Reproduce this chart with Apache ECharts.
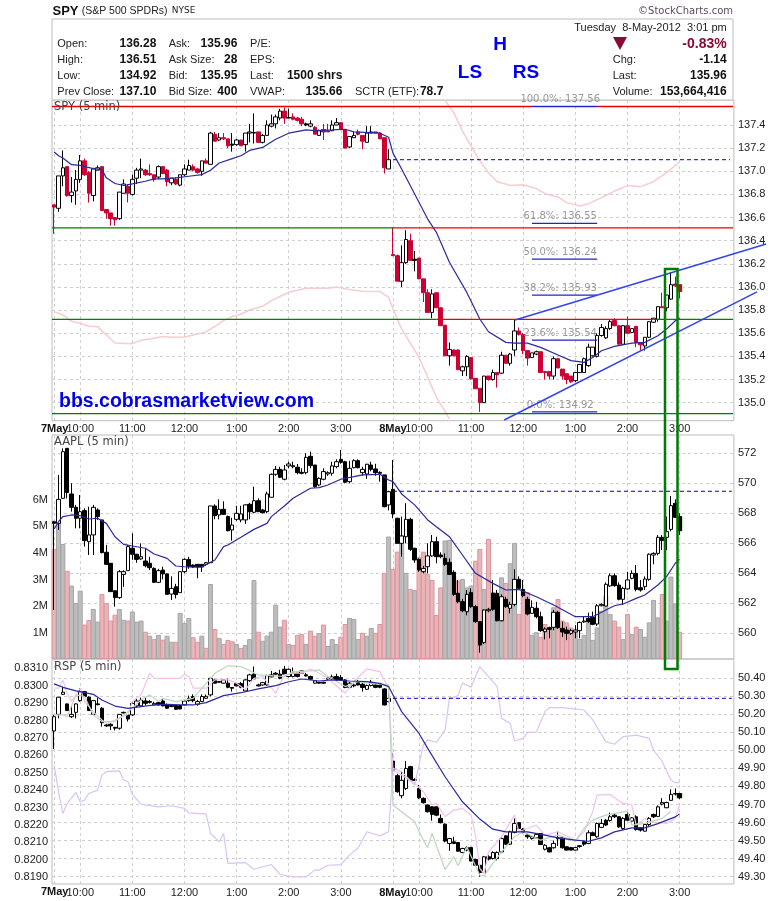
<!DOCTYPE html>
<html>
<head>
<meta charset="utf-8">
<style>html,body{margin:0;padding:0;background:#fff}#c{width:780px;height:901px}</style>
<script src="https://cdn.jsdelivr.net/npm/echarts@6/dist/echarts.min.js"></script>
</head>
<body>
<div id="c"></div>
<script>
// [open, close, low, high], one row per 5-minute bar
const spyBars = [
[136.71,136.69,136.46,136.71],[136.68,136.96,136.65,136.96],[136.96,137.03,136.87,137.18],[137.04,136.79,136.78,137.04],[136.79,136.82,136.73,136.95],[136.83,136.93,136.71,137.01],[136.93,137.09,136.90,137.14],[137.09,136.97,136.96,137.11],[136.99,136.81,136.73,137.0],[136.79,137.02,136.74,137.03],
[137.01,137.03,137.01,137.05],[137.04,136.66,136.66,137.04],[136.67,136.64,136.59,136.67],[136.64,136.59,136.53,136.64],[136.6,136.58,136.53,136.6],[136.59,136.82,136.58,136.82],[136.81,136.89,136.81,136.93],[136.87,136.81,136.73,136.89],[136.80,136.93,136.79,136.97],[136.94,137.01,136.89,137.03],
[137.01,137.02,136.94,137.11],[137.01,136.97,136.96,137.02],[136.98,136.97,136.96,137.06],[136.97,136.93,136.91,136.97],[136.95,137.04,136.93,137.05],[137.04,136.98,136.98,137.04],[137.01,136.91,136.87,137.02],[136.90,136.94,136.88,136.94],[136.93,136.89,136.88,136.95],[136.88,136.97,136.87,136.97],
[136.97,137.02,136.96,137.06],[137.01,137.05,137.01,137.1],[137.04,137.01,137.0,137.06],[137.02,136.99,136.98,137.03],[137.0,137.09,136.96,137.09],[137.09,137.07,137.07,137.11],[137.06,137.33,137.06,137.34],[137.32,137.26,137.26,137.34],[137.27,137.29,137.26,137.33],[137.29,137.28,137.27,137.33],
[137.28,137.22,137.2,137.28],[137.235,137.225,137.17,137.33],[137.23,137.27,137.22,137.28],[137.27,137.22,137.22,137.27],[137.23,137.33,137.17,137.33],[137.33,137.34,137.25,137.41],[137.335,137.33,137.24,137.5],[137.34,137.25,137.25,137.34],[137.25,137.31,137.24,137.32],[137.31,137.4,137.31,137.44],
[137.39,137.41,137.38,137.49],[137.41,137.47,137.37,137.49],[137.46,137.52,137.44,137.54],[137.52,137.46,137.41,137.55],[137.465,137.46,137.46,137.54],[137.47,137.45,137.44,137.5],[137.46,137.44,137.43,137.47],[137.45,137.41,137.39,137.47],[137.41,137.40,137.39,137.42],[137.39,137.41,137.38,137.44],
[137.38,137.32,137.32,137.39],[137.31,137.35,137.31,137.36],[137.36,137.34,137.27,137.41],[137.35,137.34,137.34,137.41],[137.35,137.4,137.35,137.44],[137.4,137.42,137.4,137.46],[137.42,137.36,137.36,137.42],[137.36,137.2,137.2,137.36],[137.21,137.3,137.2,137.3],[137.29,137.31,137.29,137.34],
[137.34,137.32,137.31,137.36],[137.31,137.26,137.19,137.31],[137.25,137.33,137.25,137.39],[137.33,137.34,137.33,137.39],[137.34,137.33,137.33,137.34],[137.33,137.28,137.28,137.34],[137.29,137.03,136.98,137.29],[137.02,137.10,137.02,137.19],
[136.28,136.27,136.27,136.515],[136.27,136.05,136.05,136.28],[136.05,136.21,136.0,136.36],[136.21,136.41,136.2,136.49],[136.4,136.23,136.23,136.46],[136.24,136.23,136.135,136.31],[136.25,136.07,136.07,136.25],[136.07,135.95,135.87,136.07],[135.95,135.78,135.78,135.98],[135.78,135.94,135.73,135.98],
[135.95,135.82,135.82,135.95],[135.82,135.665,135.665,135.82],[135.67,135.405,135.405,135.67],[135.405,135.46,135.32,135.52],[135.455,135.405,135.40,135.46],[135.455,135.285,135.285,135.46],[135.275,135.31,135.23,135.32],[135.31,135.4,135.23,135.41],[135.39,135.205,135.2,135.39],[135.21,135.12,135.12,135.21],
[135.125,135.0,134.92,135.125],[135.0,135.23,135.0,135.23],[135.23,135.2,135.19,135.23],[135.2,135.26,135.19,135.285],[135.26,135.24,135.13,135.26],[135.255,135.41,135.25,135.44],[135.41,135.34,135.34,135.41],[135.34,135.42,135.32,135.43],[135.455,135.62,135.405,135.72],[135.62,135.59,135.58,135.65],
[135.59,135.45,135.42,135.6],[135.45,135.385,135.32,135.45],[135.39,135.43,135.39,135.43],[135.42,135.44,135.41,135.45],[135.44,135.26,135.26,135.44],[135.27,135.26,135.2,135.27],[135.27,135.23,135.2,135.27],[135.23,135.38,135.2,135.4],[135.38,135.3,135.3,135.38],[135.29,135.23,135.2,135.29],
[135.25,135.2,135.16,135.25],[135.23,135.18,135.17,135.23],[135.19,135.26,135.18,135.26],[135.26,135.33,135.26,135.33],[135.26,135.38,135.26,135.39],[135.32,135.48,135.31,135.51],[135.405,135.48,135.40,135.48],[135.40,135.58,135.39,135.6],[135.58,135.65,135.57,135.68],[135.56,135.64,135.55,135.66],
[135.64,135.70,135.63,135.72],[135.71,135.665,135.66,135.73],[135.665,135.505,135.505,135.665],[135.505,135.665,135.5,135.67],[135.665,135.6,135.6,135.745],[135.607,135.64,135.6,135.64],[135.66,135.52,135.48,135.66],[135.52,135.5,135.45,135.52],[135.49,135.565,135.45,135.565],[135.565,135.7,135.56,135.7],
[135.695,135.73,135.69,135.73],[135.72,135.83,135.7,135.83],[135.83,135.82,135.82,135.95],[135.82,135.93,135.79,135.93],[135.895,136.02,135.89,136.13],[136.025,136.01,136.0,136.09],[136.02,135.96,135.9,136.02]
];
const spyBlackBars = [41,46,54,58,83];

const aaplBars = [
[567.44,567.33,561.56,567.5],[567.33,568.93,566.89,570.56],[569,572.11,569,572.33],[572.33,569.38,569,572.33],[569.29,568.4,568.11,570],[568.4,567.67,567,568.56],[567.67,568.11,567,569.22],[568.18,566.18,565.78,568.33],[566.11,566.56,565.22,568.44],[566.56,568.4,565.22,568.56],
[568.22,567.78,567.56,568.33],[567.56,565.38,565.33,567.56],[565.4,564.6,564.6,565.89],[564.67,562.78,562.78,564.67],[562.84,562.38,561.78,562.84],[562.38,564.11,562.3,564.22],[563.93,564.11,563.1,564.2],[564.18,565.78,564.18,565.9],[565.67,565.27,564.9,566.67],[565.27,564.93,564.7,565.3],
[564.96,565.11,564.9,566],[564.82,564.51,564.4,565.67],[564.67,564.38,564.22,565.1],[564.33,563.4,563.35,564.4],[563.4,564.18,563.35,564.3],[564.22,563.96,563.6,564.44],[563.96,562.6,562.6,564],[562.62,563,562.22,563.8],[563.11,562.58,562.33,563.3],[562.71,564.11,562.71,564.11],
[564.11,564.93,564,565],[564.93,564.44,564.3,565.1],[564.55,564.42,564.35,564.6],[564.6,564.42,563.67,564.6],[564.6,564.42,564.1,564.6],[564.6,564.71,564.5,564.75],[564.71,568.49,564.7,568.5],[568.49,567.84,567.6,568.6],[567.89,568.27,567.6,568.93],[568.27,567.93,567.9,568.8],
[567.78,566.84,566.8,567.85],[566.89,567.22,566.18,567.7],[567.6,568,567.5,568.5],[567.56,567.96,567.4,568.5],[567.56,568.56,567.3,568.6],[568.6,568.11,567.6,568.7],[568.07,568.84,568,569.78],[568.84,568.11,568.1,569],[568.22,568.04,568,568.3],[568.11,569.29,568,569.44],
[569.07,570.6,569.07,570.65],[570.6,570.93,570.5,571.16],[570.93,570.4,570.35,571.1],[570.27,570.89,570.2,571.22],[571.16,571.29,571,571.44],[571.11,571.18,571,571.44],[571.07,570.71,570.6,571.29],[570.73,570.67,570.6,571],[570.71,571.73,570.6,572],[571.8,571.18,571,572.11],
[571.22,569.78,569.7,571.22],[569.89,570.33,569.8,570.4],[570.27,570.78,570.2,571],[570.62,570.71,570.5,570.8],[570.67,571.16,570.5,571.44],[571.11,571.44,571,571.6],[571.6,571.4,571.3,572.22],[571.44,570.07,570,571.5],[570.11,571,570,571.5],[571.04,571.51,571,571.6],
[571.51,571.04,571,571.6],[570.71,570.93,570.5,571.1],[570.62,571.27,570.3,571.3],[571.22,570.93,570.8,571.44],[570.96,570.71,570.5,571.3],[570.73,570.67,570.11,570.8],[570.56,568.44,568.4,570.56],[568.56,569.44,568.2,569.5],
[569.6,567.96,567.67,571.56],[567.67,566,566,567.7],[566,566.49,565.11,567.78],[566.44,567.6,566,568.67],[567.6,565.6,565.5,567.7],[565.67,564.89,564.7,565.7],[564.93,564.22,564.1,565],[564.11,564.33,564,564.5],[564.44,565.16,564,566],[565.16,566.11,565.1,566.56],
[566.11,565.11,564.67,566.44],[565.22,565.11,565,565.4],[565,564.6,564.5,565.33],[564.73,563.93,563.9,565],[564.07,562.6,562.5,564.2],[562.67,562.11,562,563.56],[562.11,561.51,561.4,562.3],[561.44,562.6,561.2,562.89],[562.73,561.78,561.7,563],[561.78,560.78,560.7,561.9],
[560.78,559.22,558.71,560.8],[559.38,561.56,559.3,561.6],[561.51,561.6,561.4,561.7],[562.67,561.6,561.5,563.56],[562.67,560.84,560.8,562.9],[560.84,562.44,560.8,562.6],[562.27,561.78,561.7,562.44],[561.67,561.93,561.33,562.1],[561.93,563.6,561.8,564.27],[563.6,563,562.9,563.8],
[562.93,562.51,562.4,563.56],[562.27,561.29,561.2,562.44],[561.33,561.73,561.3,562.2],[561.67,561.11,561,562.1],[561.11,560.18,560.1,561.44],[560.11,560.29,559.6,560.4],[560.38,560.27,559.67,560.45],[560.4,561.4,560.2,561.56],[561.4,560.38,560.3,561.5],[560.33,560.09,559.75,560.78],
[560.22,560,559.55,560.45],[560,560.18,559.9,560.3],[560.09,560.22,559.67,560.55],[560.18,560.73,559.67,560.8],[560.76,560.82,560.7,561.1],[561,560.78,560.7,561.38],[561.07,560.6,560.55,561.45],[560.62,561.84,560.5,561.95],[561.84,561.93,561.8,562.0],[561.82,563.27,561.8,563.4],
[563.16,563.84,563.1,564.0],[563.84,563.18,563.1,564],[563.22,562.27,562.2,563.4],[562.27,563,561.9,563.1],[562.96,563.56,562.9,564.1],[563.67,564,563.6,564.2],[564,562.93,562.8,564.55],[563.04,562.89,562.78,563.56],[563.11,563.62,562.89,563.8],[563.6,565.27,563.5,565.33],
[565.22,565.33,564.6,565.4],[565.33,566.4,565.2,566.55],[566.4,566.18,565.55,566.55],[566.4,566.78,565.55,567.78],[566.93,568.51,566.8,569.15],[568.67,567.73,567.7,568.93],[567.78,566.84,566.56,568]
];

const rspBars = [
[50.108,50.187,50.008,50.197],[50.2,50.295,50.178,50.295],[50.311,50.323,50.31,50.354],[50.258,50.221,50.22,50.26],[50.187,50.2,50.18,50.25],[50.211,50.258,50.178,50.26],[50.276,50.326,50.27,50.345],[50.326,50.299,50.295,50.33],[50.295,50.221,50.22,50.3],[50.2,50.276,50.2,50.28],
[50.258,50.254,50.25,50.29],[50.234,50.154,50.132,50.24],[50.141,50.136,50.13,50.145],[50.145,50.136,50.113,50.15],[50.128,50.123,50.11,50.13],[50.123,50.2,50.115,50.2],[50.211,50.208,50.205,50.215],[50.197,50.174,50.16,50.2],[50.197,50.261,50.19,50.27],[50.247,50.274,50.24,50.29],
[50.247,50.28,50.24,50.293],[50.274,50.261,50.25,50.293],[50.271,50.267,50.26,50.28],[50.252,50.261,50.25,50.27],[50.265,50.252,50.25,50.27],[50.274,50.247,50.245,50.285],[50.252,50.234,50.23,50.26],[50.249,50.243,50.24,50.25],[50.249,50.228,50.225,50.25],[50.249,50.23,50.228,50.25],
[50.252,50.274,50.25,50.28],[50.276,50.289,50.27,50.304],[50.299,50.276,50.267,50.311],[50.256,50.271,50.248,50.28],[50.271,50.299,50.27,50.311],[50.289,50.3,50.285,50.31],[50.308,50.4,50.3,50.4],[50.391,50.373,50.37,50.395],[50.382,50.378,50.375,50.385],[50.373,50.391,50.37,50.395],
[50.373,50.35,50.345,50.397],[50.349,50.345,50.326,50.35],[50.371,50.358,50.355,50.375],[50.371,50.35,50.345,50.38],[50.33,50.391,50.325,50.395],[50.387,50.419,50.38,50.425],[50.423,50.397,50.395,50.465],[50.363,50.358,50.355,50.37],[50.363,50.376,50.36,50.38],[50.363,50.415,50.36,50.42],
[50.408,50.419,50.405,50.441],[50.428,50.423,50.42,50.435],[50.423,50.4,50.395,50.447],[50.45,50.423,50.42,50.469],[50.41,50.45,50.405,50.455],[50.41,50.428,50.405,50.46],[50.428,50.41,50.405,50.43],[50.428,50.441,50.425,50.445],[50.419,50.413,50.41,50.43],[50.41,50.395,50.39,50.415],
[50.373,50.386,50.37,50.39],[50.378,50.373,50.37,50.38],[50.378,50.373,50.37,50.38],[50.404,50.395,50.39,50.41],[50.397,50.408,50.39,50.42],[50.41,50.391,50.385,50.425],[50.404,50.391,50.385,50.419],[50.391,50.349,50.345,50.395],[50.35,50.373,50.345,50.38],[50.363,50.358,50.35,50.37],
[50.378,50.363,50.36,50.391],[50.367,50.349,50.326,50.382],[50.339,50.36,50.335,50.365],[50.36,50.378,50.355,50.391],[50.363,50.35,50.345,50.37],[50.363,50.35,50.345,50.37],[50.341,50.252,50.25,50.345],[50.271,50.289,50.265,50.326],
[49.941,49.887,49.845,49.984],[49.86,49.771,49.765,49.87],[49.749,49.834,49.734,49.882],[49.789,49.9,49.78,49.941],[49.91,49.836,49.83,49.915],[49.839,49.834,49.83,49.845],[49.789,49.737,49.73,49.808],[49.734,49.71,49.705,49.74],[49.697,49.66,49.655,49.7],[49.687,49.645,49.61,49.69],
[49.687,49.641,49.635,49.69],[49.623,49.599,49.595,49.645],[49.591,49.497,49.49,49.595],[49.484,49.511,49.443,49.515],[49.493,49.484,49.48,49.521],[49.489,49.441,49.44,49.49],[49.434,49.456,49.43,49.46],[49.447,49.461,49.44,49.47],[49.461,49.386,49.385,49.465],[49.395,49.363,49.36,49.4],
[49.363,49.323,49.3,49.365],[49.323,49.41,49.32,49.415],[49.41,49.397,49.39,49.42],[49.4,49.434,49.395,49.44],[49.4,49.434,49.39,49.44],[49.437,49.511,49.43,49.52],[49.526,49.48,49.475,49.53],[49.48,49.549,49.475,49.555],[49.545,49.595,49.54,49.623],[49.599,49.567,49.56,49.6],
[49.563,49.545,49.54,49.57],[49.53,49.521,49.51,49.54],[49.511,49.521,49.505,49.525],[49.515,49.534,49.51,49.54],[49.539,49.478,49.475,49.54],[49.452,49.474,49.445,49.48],[49.46,49.437,49.435,49.465],[49.46,49.484,49.455,49.5],[49.515,49.51,49.47,49.55],[49.515,49.46,49.455,49.525],
[49.465,49.447,49.445,49.47],[49.461,49.447,49.445,49.465],[49.447,49.461,49.445,49.465],[49.471,49.467,49.46,49.475],[49.493,49.48,49.47,49.5],[49.484,49.543,49.48,49.557],[49.543,49.528,49.525,49.55],[49.521,49.595,49.515,49.6],[49.573,49.595,49.57,49.62],[49.613,49.586,49.58,49.62],
[49.611,49.632,49.605,49.655],[49.641,49.632,49.625,49.65],[49.632,49.576,49.57,49.635],[49.567,49.623,49.56,49.63],[49.645,49.613,49.61,49.66],[49.608,49.626,49.6,49.63],[49.632,49.561,49.555,49.64],[49.571,49.558,49.55,49.575],[49.552,49.589,49.55,49.595],[49.589,49.623,49.58,49.63],
[49.645,49.632,49.625,49.65],[49.634,49.687,49.63,49.695],[49.702,49.711,49.695,49.735],[49.682,49.711,49.68,49.715],[49.723,49.756,49.72,49.784],[49.761,49.758,49.75,49.789],[49.761,49.737,49.73,49.765]
];

// AAPL share volume in millions
const volumeM = [4.15,5.62,4.34,3.33,2.77,2.11,2.58,1.30,1.47,1.89,1.41,2.45,2.11,1.45,1.67,1.89,1.48,1.45,1.79,1.41,1.45,1.03,.88,.75,.91,.73,.88,.65,.65,1.74,1.36,1.55,.82,.65,.88,.42,2.83,1.13,.79,.57,.72,.67,.57,.42,.53,.75,2.98,1.03,.69,.88,1.03,2.05,1.22,1.48,.57,.53,.91,.94,.57,1.07,.88,.98,1.30,.49,.75,.57,.84,1.32,1.55,1.51,.75,.99,.88,1.17,.99,1.32,3.25,4.62,
3.40,4.05,4.65,3.25,2.64,2.60,3.84,4.05,3.21,2.98,1.66,2.70,4.47,4.49,3.14,2.96,3.02,2.70,2.77,3.71,4.15,2.64,4.53,2.52,1.76,3.08,2.87,3.61,4.38,1.70,2.58,2.52,.91,1.01,.84,1.32,1.13,1.95,2.26,1.45,1.38,1.19,1.07,.75,.91,1.38,.72,1.19,1.82,2.39,1.70,1.45,1.22,.75,1.70,.94,1.22,1.13,.84,1.38,2.23,1.57,2.45,1.45,3.11,2.10,1.03];
// 1 = pink (falling) volume bar, 0 = grey
const volumeFalling = [1,0,0,1,0,0,0,1,1,0,0,1,1,1,1,0,0,1,0,0,0,1,0,1,0,1,0,0,1,0,0,0,1,1,0,1,0,1,0,1,1,1,0,1,0,0,0,1,0,0,0,0,0,1,0,1,1,1,0,1,1,0,1,0,0,0,1,1,0,0,0,1,0,0,1,1,1,0,
1,1,0,0,1,0,1,1,1,1,1,1,0,0,1,1,0,0,0,1,1,0,1,0,0,0,1,0,0,1,1,1,0,0,1,1,1,0,1,1,1,1,0,0,0,0,0,0,0,0,0,1,1,0,1,0,1,0,0,0,0,0,1,0,0,0,1];

// moving averages and overlays: [bar index, value]
const spyMA = [[0,137.166],[1,137.134],[2,137.114],[4,137.057],[6,137.051],[9,137.023],[11,137.014],[12,136.943],[14,136.894],[16,136.877],[18,136.891],[21,136.914],[23,136.934],[25,136.934],[28,136.943],[31,136.957],[34,136.971],[36,137.009],[38,137.071],[41,137.109],[43,137.134],[45,137.18],[48,137.206],[51,137.277],[54,137.329],[58,137.357],[60,137.351],[64,137.357],[67,137.363],[69,137.34],[73,137.334],[75,137.329],[77,137.294],[78,137.157],[80,137.02],[86,136.587],[88,136.472],[91,136.213],[95,135.953],[98,135.723],[100,135.613],[104,135.521],[106,135.515],[109,135.515],[112,135.478],[116,135.412],[119,135.363],[122,135.348],[124,135.391],[126,135.449],[129,135.486],[133,135.515],[136,135.521],[139,135.579],[141,135.636],[143,135.708],[144,135.73]];
const spyOverlayA = [[0,135.787],[2,135.758],[4,135.703],[6,135.686],[8,135.66],[10,135.657],[12,135.585],[14,135.516],[18,135.51],[20,135.539],[22,135.55],[25,135.571],[27,135.565],[30,135.568],[33,135.594],[35,135.614],[37,135.66],[39,135.709],[41,135.744],[43,135.764],[45,135.801],[48,135.833],[50,135.882],[54,135.954],[58,135.988],[63,135.988],[65,136.0],[68,135.977],[71,135.963],[75,135.96],[77,135.911],[78,135.81],[80,135.637],[84,135.392],[86,135.219],[88,135.046],[91,134.859]];
const spyOverlayB = [[90,137.613],[92,137.507],[94,137.348],[96,137.218],[98,137.089],[100,136.988],[102,136.91],[105,136.878],[108,136.884],[111,136.85],[113,136.806],[116,136.778],[118,136.729],[121,136.7],[123,136.72],[126,136.772],[129,136.829],[132,136.876],[135,136.867],[138,136.91],[141,136.988],[144,137.08]];
const aaplMA = [[0,566.96],[1,567.44],[2,567.78],[4,567.89],[6,567.84],[8,567.62],[10,567.67],[12,567.33],[14,566.44],[16,565.93],[18,565.82],[21,565.67],[23,565.29],[26,565],[28,564.49],[30,564.44],[34,564.42],[37,564.89],[39,565.78],[40,565.89],[43,566.4],[46,566.93],[49,567.33],[50,567.78],[53,568.49],[55,569],[59,569.67],[61,569.71],[63,569.89],[66,570.27],[69,570.44],[71,570.56],[75,570.6],[77,570.22],[78,570.11],[80,569.29],[83,568.56],[86,567.56],[88,567.11],[91,566.44],[94,565.22],[97,564],[101,563.33],[104,562.89],[107,562.93],[111,562.44],[115,561.89],[120,561.11],[124,561.11],[127,561.56],[129,561.84],[131,561.96],[134,562.33],[136,562.56],[139,563.22],[141,563.78],[143,564.67],[144,564.93]];
const rspMA = [[0,50.369],[2,50.35],[5,50.33],[9,50.311],[11,50.28],[14,50.246],[17,50.233],[20,50.243],[23,50.252],[26,50.256],[29,50.252],[32,50.252],[35,50.265],[39,50.304],[43,50.32],[47,50.341],[51,50.359],[54,50.381],[57,50.396],[61,50.385],[64,50.391],[68,50.385],[72,50.381],[75,50.372],[77,50.354],[80,50.215],[84,50.094],[86,50.011],[90,49.854],[94,49.715],[98,49.619],[101,49.563],[104,49.548],[109,49.548],[113,49.53],[116,49.515],[120,49.502],[123,49.496],[126,49.515],[129,49.548],[133,49.57],[136,49.57],[139,49.594],[143,49.631],[144,49.648]];
const rspPink = [[0,50.345],[1,50.345],[2,50.391],[3,50.317],[4,50.271],[6,50.345],[7,50.271],[9,50.215],[11,50.169],[12,50.15],[14,50.169],[17,50.2],[18,50.271],[20,50.308],[22,50.428],[23,50.4],[29,50.4],[30,50.422],[31,50.41],[32,50.345],[35,50.345],[37,50.391],[40,50.391],[42,50.373],[44,50.336],[46,50.4],[48,50.41],[51,50.317],[53,50.419],[55,50.428],[57,50.428],[59,50.452],[61,50.428],[63,50.4],[67,50.317],[69,50.382],[72,50.452],[75,50.437],[77,50.345],[78,49.891],[80,49.863],[83,49.817],[85,49.771],[87,49.697],[88,49.706],[90,49.632],[92,49.669],[94,49.678],[96,49.641],[97,49.53],[98,49.345],[99,49.317],[100,49.437],[103,49.521],[106,49.641],[107,49.549],[109,49.567],[111,49.586],[113,49.53],[116,49.549],[120,49.502],[122,49.549],[124,49.66],[125,49.752],[128,49.756],[131,49.706],[133,49.697],[134,49.586],[136,49.623],[137,49.604],[141,49.595],[143,49.623],[144,49.7]];
const rspGreen = [[0,50.197],[2,50.197],[3,50.187],[5,50.308],[7,50.299],[9,50.197],[11,50.16],[14,50.16],[16,50.197],[18,50.234],[20,50.28],[22,50.308],[24,50.271],[25,50.289],[28,50.271],[32,50.289],[36,50.4],[37,50.428],[40,50.469],[43,50.465],[47,50.419],[53,50.41],[55,50.437],[59,50.441],[61,50.447],[63,50.41],[67,50.354],[70,50.382],[72,50.373],[77,50.363],[78,49.697],[80,49.66],[83,49.604],[85,49.502],[86,49.461],[87,49.539],[90,49.339],[92,49.41],[93,49.36],[95,49.465],[98,49.308],[99,49.304],[101,49.373],[103,49.437],[106,49.521],[108,49.549],[112,49.502],[116,49.53],[120,49.497],[122,49.567],[124,49.613],[127,49.641],[132,49.663],[133,49.586],[136,49.595],[140,49.623],[142,49.663]];
const rspLilac = [[0,49.919],[1,49.771],[2,49.65],[3,49.706],[5,49.767],[6,49.715],[7,49.724],[8,49.761],[10,49.78],[11,49.863],[12,49.882],[15,49.887],[16,49.836],[17,49.826],[18,49.756],[20,49.702],[24,49.687],[27,49.693],[30,49.678],[31,49.654],[35,49.647],[36,49.539],[38,49.493],[39,49.539],[40,49.373],[44,49.378],[46,49.341],[50,49.367],[52,49.313],[55,49.298],[58,49.298],[60,49.336],[61,49.336],[63,49.363],[66,49.367],[68,49.419],[70,49.46],[72,49.549],[75,49.526],[77,49.549],[78,49.9],[80,49.882],[83,49.808],[85,50.03],[86,50.058],[88,50.045],[90,50.113],[91,50.289],[93,50.304],[94,50.373],[96,50.35],[98,50.465],[102,50.354],[103,50.178],[105,50.15],[106,50.052],[108,50.067],[109,50.1],[111,50.1],[113,50.215],[114,50.237],[117,50.237],[122,50.224],[124,50.169],[127,50.049],[129,50.034],[131,50.076],[134,50.085],[137,50.067],[138,50.002],[140,49.937],[142,49.836],[143,49.821],[144,49.821]];

// Fibonacci levels and drawn lines on the SPY panel
const fibLevels = [137.56,136.55,136.24,135.93,135.54,134.92];
const fibNames = ['100.0%: 137.56','61.8%: 136.55','50.0%: 136.24','38.2%: 135.93','23.6%: 135.54','0.0%: 134.92'];
const upperTrend = [[106.1,135.715],[163.9,136.371]];
const lowerTrend = [[103.6,134.85],[161.8,135.957]];

// axes
const barCount = 157;
const tickLabels = {0:'7May',6:'10:00',18:'11:00',30:'12:00',42:'1:00',54:'2:00',66:'3:00',78:'8May',84:'10:00',96:'11:00',108:'12:00',120:'1:00',132:'2:00',144:'3:00'};
const spyTicks = [135,135.2,135.4,135.6,135.8,136,136.2,136.4,136.6,136.8,137,137.2,137.4];
const aaplTicks = [560,562,564,566,568,570,572];
const volumeTicks = [1,2,3,4,5,6];
const rspTicks = [49.3,49.4,49.5,49.6,49.7,49.8,49.9,50,50.1,50.2,50.3,50.4];
const ratioTicks = [.819,.82,.821,.822,.823,.824,.825,.826,.827,.828,.829,.83,.831];

const categories = Array.from({length:barCount},(_,i)=>String(i));
const SANS = '"Liberation Sans", Arial, sans-serif';
const GRID = {color:'#cfcfcf',type:[3,3],width:1};
const CRIMSON = '#cc0033';

function xAxis(gridIndex, showLabels){
  return {type:'category',gridIndex,data:categories,boundaryGap:true,
    axisLine:{show:false},axisTick:{show:false,alignWithLabel:true},
    splitLine:{show:true,lineStyle:GRID,alignWithLabel:true,interval:(i)=>i in tickLabels},
    axisLabel:{show:showLabels,showMinLabel:false,interval:(i)=>i in tickLabels,margin:3,fontFamily:SANS,fontSize:11,color:'#222',
      formatter:(v)=>{const t=tickLabels[v]||'';return t.endsWith('May')?'{d|'+t+'}':t;},
      rich:{d:{fontFamily:SANS,fontSize:11,fontWeight:'bold',color:'#111'}}}};
}
function yAxis(gridIndex,position,min,max,ticks,fmt,split){
  return {type:'value',gridIndex,position,min,max,scale:true,
    axisLine:{show:false},axisTick:{show:false,customValues:ticks},
    splitLine:{show:split,lineStyle:GRID},
    axisLabel:{customValues:ticks,margin:4,fontFamily:SANS,fontSize:11,color:'#222',formatter:fmt}};
}
function line(name,data,xAxisIndex,yAxisIndex,color,width,type){
  return {name,type:'line',data,xAxisIndex,yAxisIndex,showSymbol:false,symbol:'none',silent:true,
    lineStyle:{color,width:width||1,type:type||'solid'}};
}
function candles(name,bars,xi,yi,downColor,black){
  return {name,type:'candlestick',xAxisIndex:xi,yAxisIndex:yi,barWidth:4,silent:true,
    itemStyle:{color:'#fff',color0:downColor,borderColor:'#000',borderColor0:downColor,borderWidth:1},
    data:bars.map((b,i)=>(black&&black.includes(i))?{value:b,itemStyle:{color0:'#000',borderColor0:'#000',color:'#000',borderColor:'#000'}}:b)};
}
function lastBarGlow(bars,xi,yi){
  const c='#c6efbe';
  return {name:'latest',type:'candlestick',xAxisIndex:xi,yAxisIndex:yi,barWidth:6,silent:true,
    itemStyle:{color:c,color0:c,borderColor:c,borderColor0:c,borderWidth:1},
    data:bars.map((b,i)=>i===bars.length-1?b:['-','-','-','-'])};
}
function rule(name,level,a,b,color,width,type){
  return line(name,[[a,level],[b,level]],3,5,color,width,type);
}

const RIGHT_END = 156.3, LEFT_END = -0.5;
const fibSeries = fibLevels.map((lv,k)=>line('fib'+k,[[110,lv],[125,lv]],3,5,'#2222cc',1.2));
const fibLabels = {name:'fibLabels',type:'scatter',xAxisIndex:3,yAxisIndex:5,symbolSize:2,silent:true,clip:false,
  itemStyle:{color:'rgba(0,0,0,0)'},
  label:{show:true,position:'top',distance:1,color:'#808080',fontFamily:'"DejaVu Sans", sans-serif',fontSize:10,
    formatter:(p)=>fibNames[p.dataIndex]},
  data:fibLevels.map((lv)=>[116.5,lv])};

const series = [
  // SPY
  line('spyOverlayA',spyOverlayA,0,0,'#f7cccc',1.5),
  line('spyOverlayB',spyOverlayB,0,0,'#f7cccc',1.5),
  lastBarGlow(spyBars,0,0),
  candles('SPY',spyBars,0,0,CRIMSON,spyBlackBars),
  line('spyMA',spyMA,0,0,'#2a2aa0',1.2),
  // AAPL
  {name:'Volume',type:'bar',xAxisIndex:1,yAxisIndex:2,barWidth:5,silent:true,
    data:volumeM.map((v,i)=>({value:v,itemStyle:volumeFalling[i]?{color:'#e8b6ba',borderColor:'#dc959c',borderWidth:1}:{color:'#bdbdbd',borderColor:'#a6a6a6',borderWidth:1}}))},
  lastBarGlow(aaplBars,1,1),
  candles('AAPL',aaplBars,1,1,'#000'),
  line('aaplMA',aaplMA,1,1,'#2a2aa0',1.2),
  line('aaplRef',[[78,569.47],[156,569.47]],1,1,'#0000aa',1,[4,3]),
  // RSP
  line('rspPink',rspPink,2,3,'#f3c0f0',1.2),
  line('rspGreen',rspGreen,2,3,'#bcd8bc',1.2),
  line('rspLilac',rspLilac,2,3,'#d9c4f2',1.2),
  lastBarGlow(rspBars,2,3),
  candles('RSP',rspBars,2,3,'#000'),
  line('rspMA',rspMA,2,3,'#2a2aa0',1.2),
  line('rspRef',[[78,50.289],[156,50.289]],2,3,'#0000cc',1,[4,3]),
  // drawn levels and trend lines on SPY
  rule('top',137.56,LEFT_END,RIGHT_END,'#ee0000',1.3),
  rule('highL',136.51,LEFT_END,78,'#008000',1.3),
  rule('highR',136.51,78,RIGHT_END,'#ee0000',1.3),
  rule('midL',135.72,LEFT_END,88,'#008000',1.3),
  rule('midC',135.72,88,138,'#ee0000',1.3),
  rule('midR',135.72,138,RIGHT_END,'#008000',1.3),
  rule('low',134.906,LEFT_END,RIGHT_END,'#008000',1.3),
  rule('prevClose',137.10,78,155.6,'#0000cc',1,[4,3]),
  ...fibSeries,
  fibLabels,
  line('upperTrend',upperTrend,3,5,'#3344ee',1.5),
  line('lowerTrend',lowerTrend,3,5,'#3344ee',1.5)
];

const txt=(x,y,text,o)=>({type:'text',x,y,silent:true,z:50,style:Object.assign({text,fontFamily:SANS,fontSize:11,fill:'#222',textVerticalAlign:'middle',textBaseline:'middle',textAlign:'left'},o||{})});
const val=(x,y,text,o)=>txt(x,y,text,Object.assign({fontWeight:'bold',fontSize:12,fill:'#111',textAlign:'right'},o||{}));
const BLUE='#0000ee', MAROON='#8a0a34';
const PANEL='"DejaVu Sans", sans-serif';

const graphic = [
  {type:'rect',shape:{x:52,y:19,width:681,height:81},silent:true,z:0,style:{fill:'#fff',stroke:'#bdbdbd',lineWidth:1}},
  txt(52.5,11,'SPY',{fontWeight:'bold',fontSize:13,fill:'#111'}),
  txt(81.7,11,'(S&P 500 SPDRs)',{fontSize:10.5}),
  txt(171.7,11,'NYSE',{fontFamily:PANEL,fontSize:9}),
  txt(733,11,'©StockCharts.com',{textAlign:'right',fontFamily:PANEL,fontSize:10,fill:'#5e4a60'}),
  txt(57.3,44,'Open:'),val(156.3,44,'136.28'),txt(168.7,44,'Ask:'),val(237.3,44,'135.96'),txt(250,44,'P/E:'),
  txt(57.3,60,'High:'),val(156.3,60,'136.51'),txt(168.7,60,'Ask Size:'),val(237.3,60,'28'),txt(250,60,'EPS:'),
  txt(57.3,76,'Low:'),val(156.3,76,'134.92'),txt(168.7,76,'Bid:'),val(237.3,76,'135.95'),txt(250,76,'Last:'),val(342.3,76,'1500 shrs'),
  txt(57.3,92,'Prev Close:'),val(156.3,92,'137.10'),txt(168.7,92,'Bid Size:'),val(237.3,92,'400'),txt(250,92,'VWAP:'),val(342.3,92,'135.66'),txt(355,92,'SCTR (ETF):'),val(443.3,92,'78.7'),
  txt(726.7,28,'Tuesday  8-May-2012  3:01 pm',{textAlign:'right'}),
  {type:'polygon',silent:true,z:50,shape:{points:[[613,37],[627,37],[620,50]]},style:{fill:MAROON}},
  val(726.7,44,'-0.83%',{fontSize:14,fill:MAROON}),
  txt(612.7,60,'Chg:'),val(726.7,60,'-1.14'),
  txt(612.7,76,'Last:'),val(726.7,76,'135.96'),
  txt(612.7,92,'Volume:'),val(726.7,92,'153,664,416'),
  txt(500,45,'H',{textAlign:'center',fontWeight:'bold',fontSize:19,fill:BLUE}),
  txt(470,73,'LS',{textAlign:'center',fontWeight:'bold',fontSize:19,fill:BLUE}),
  txt(526,73,'RS',{textAlign:'center',fontWeight:'bold',fontSize:19,fill:BLUE}),
  txt(59,402,'bbs.cobrasmarketview.com',{fontWeight:'bold',fontSize:19.5,fill:BLUE}),
  txt(54,107,'SPY (5 min)',{fontFamily:PANEL,fontSize:11.5,fill:'#444'}),
  txt(54,442,'AAPL (5 min)',{fontFamily:PANEL,fontSize:11.5,fill:'#444'}),
  txt(54,667,'RSP (5 min)',{fontFamily:PANEL,fontSize:11.5,fill:'#444'}),
  txt(54.7,428.5,tickLabels[0],{textAlign:'center',fontWeight:'bold',fill:'#111'}),
  txt(54.7,891.5,tickLabels[0],{textAlign:'center',fontWeight:'bold',fill:'#111'}),
  {type:'rect',silent:true,z:60,shape:{x:665,y:269,width:12.5,height:400},style:{fill:'none',stroke:'#007a00',lineWidth:2.5}}
];

const option = {
  animation:false,
  backgroundColor:'#fff',
  tooltip:{show:false},
  grid:[
    {left:52,top:100,width:681.9,height:320.7,show:true,borderColor:'#bdbdbd',borderWidth:1,backgroundColor:'transparent'},
    {left:52,top:435,width:681.9,height:224,show:true,borderColor:'#bdbdbd',borderWidth:1,backgroundColor:'transparent'},
    {left:52,top:659,width:681.9,height:225,show:true,borderColor:'#bdbdbd',borderWidth:1,backgroundColor:'transparent'},
    {left:52,top:100,width:715,height:320.7,show:false}
  ],
  xAxis:[
    xAxis(0,true),xAxis(1,false),xAxis(2,true),
    {type:'value',gridIndex:3,min:-0.5,max:164.1,show:false,splitLine:{show:false}}
  ],
  yAxis:[
    yAxis(0,'right',134.844,137.616,spyTicks,(v)=>v.toFixed(1),true),
    yAxis(1,'right',558.29,573.22,aaplTicks,(v)=>String(v),true),
    yAxis(1,'left',0,8.45,volumeTicks,(v)=>v+'M',false),
    yAxis(2,'right',49.259,50.507,rspTicks,(v)=>v.toFixed(2),true),
    yAxis(2,'left',.8186,.83154,ratioTicks,(v)=>v.toFixed(4),false),
    {type:'value',gridIndex:3,min:134.844,max:137.616,show:false,splitLine:{show:false}}
  ],
  series,
  graphic
};
echarts.init(document.getElementById('c'),null,{renderer:'canvas'}).setOption(option);
</script>
</body>
</html>
